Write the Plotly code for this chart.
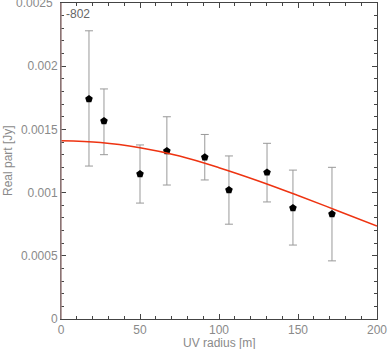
import plotly.graph_objects as go

# Data points (UV radius [m], real part [Jy], errors)
uv_radius = [17.7, 27.2, 50.0, 67.0, 91.0, 106.3, 130.4, 146.8, 171.5]
real_part = [0.00174, 0.001566, 0.001147, 0.00133, 0.00128, 0.00102, 0.00116, 0.000878, 0.00083]
err_plus = [0.00054, 0.000254, 0.00023, 0.00027, 0.00018, 0.00027, 0.00023, 0.0003, 0.00037]
err_minus = [0.00053, 0.000266, 0.00023, 0.00027, 0.00018, 0.00027, 0.000234, 0.000293, 0.00037]

# Model curve
model_x = [0, 25, 50, 75, 100, 125, 150, 175, 200]
model_y = [0.00141, 0.001396, 0.001354, 0.001289, 0.001197, 0.001092, 0.000977, 0.000857, 0.000736]

ytick_vals = [0, 0.0005, 0.001, 0.0015, 0.002, 0.0025]
ytick_text = ["0", "0.0005", "0.001", "0.0015", "0.002", "0.0025"]
xtick_vals = [0, 50, 100, 150, 200]

FONT = "Liberation Sans, Arial, sans-serif"
tickfont = dict(family=FONT, size=12, color="#8a8a8a")

fig = go.Figure()
fig.add_trace(go.Scatter(
    x=uv_radius, y=real_part, mode="markers",
    marker=dict(symbol="pentagon", size=8, color="black"),
    error_y=dict(type="data", array=err_plus, arrayminus=err_minus,
                 color="#999999", thickness=1, width=4),
    showlegend=False))
fig.add_trace(go.Scatter(
    x=model_x, y=model_y, mode="lines", line=dict(color="#ee3311", width=1.5, shape="spline"),
    showlegend=False))

fig.update_layout(
    width=388, height=349,
    margin=dict(l=61, r=11, t=3, b=30),
    plot_bgcolor="white", paper_bgcolor="white",
    font=tickfont,
    xaxis=dict(range=[0, 200], tickvals=xtick_vals, ticks="inside", ticklen=5,
               tickcolor="#444", showline=True, linecolor="#444", linewidth=1,
               mirror="allticks", showgrid=False, zeroline=False, tickfont=tickfont,
               automargin=False,
               minor=dict(ticks="inside", ticklen=3, dtick=10, tickcolor="#444")),
    yaxis=dict(range=[0, 0.0025], tickvals=ytick_vals, ticktext=ytick_text,
               ticks="inside", ticklen=5, tickcolor="#444", showline=True,
               linecolor="#444", linewidth=1, mirror="allticks", showgrid=False,
               zeroline=False, tickfont=tickfont, automargin=False,
               minor=dict(ticks="inside", ticklen=3, dtick=0.0001, tickcolor="#444")),
)
# reddish left axis line
fig.add_shape(type="line", xref="paper", yref="paper", x0=0, x1=0, y0=0, y1=1,
              line=dict(color="#a08484", width=1.5))
# top tick label (clipped at the page edge as in the reference)
fig.add_annotation(x=0, y=ytick_vals[-1], xref="paper", yref="y", text=ytick_text[-1],
                   showarrow=False, xanchor="right", yanchor="middle", xshift=-6,
                   font=tickfont)
fig.add_annotation(x=0.5, y=0, xref="paper", yref="paper", text="UV radius [m]",
                   showarrow=False, xanchor="center", yanchor="middle", yshift=-24,
                   font=tickfont)
fig.add_annotation(x=0, y=0.5, xref="paper", yref="paper", text="Real part [Jy]",
                   showarrow=False, xanchor="center", yanchor="middle", xshift=-53,
                   textangle=-90, font=tickfont)
fig.add_annotation(x=0.01, y=0.995, xref="paper", yref="paper", text="-802",
                   showarrow=False, xanchor="left", yanchor="top",
                   font=dict(family=FONT, size=12, color="#666666"))
fig.write_html("out.html", config={"displayModeBar": False},
               post_script="document.body.style.margin='0';document.body.style.overflow='hidden';")
